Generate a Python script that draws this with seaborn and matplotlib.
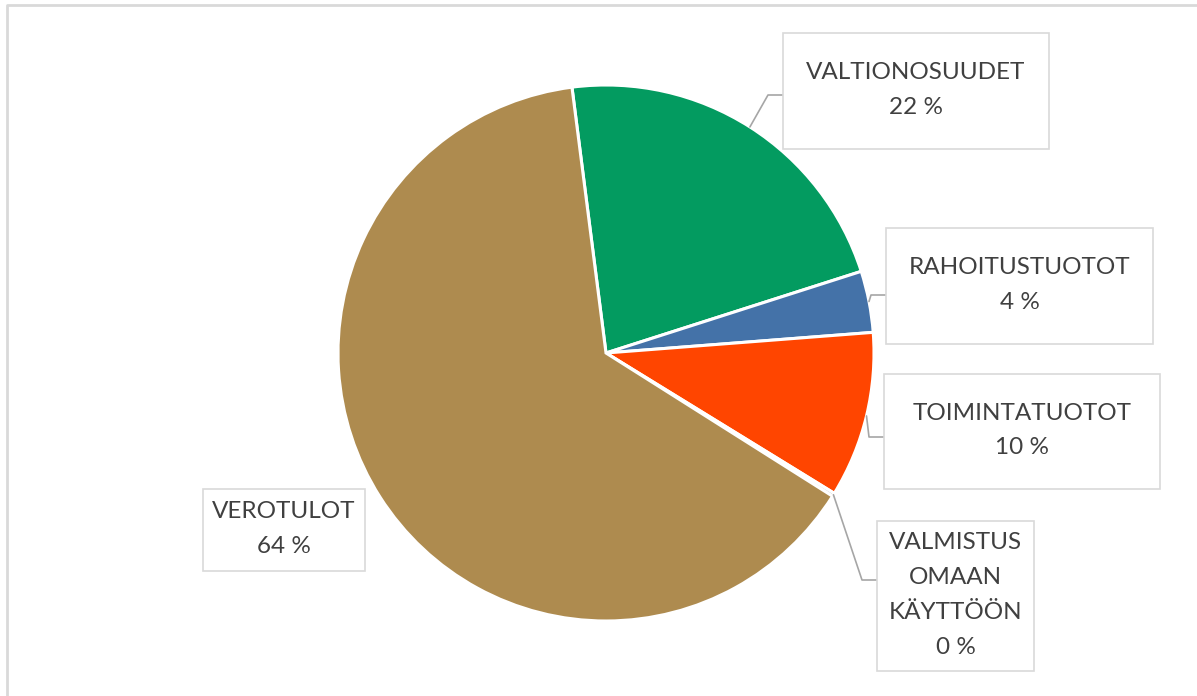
import numpy as np
import seaborn as sns
import matplotlib.pyplot as plt
from matplotlib.patches import Rectangle

sns.set_theme(style='white')
plt.rcParams['font.family'] = ['Lato', 'DejaVu Sans']

# data
categories = ['VALTIONOSUUDET', 'RAHOITUSTUOTOT', 'TOIMINTATUOTOT',
              'VALMISTUS\nOMAAN\nKÄYTTÖÖN', 'VEROTULOT']
shares = [22.1, 3.7, 10.0, 0.2, 64.0]
colors = ['#039B60', '#4472A8', '#FF4500', '#A5A5A5', '#AE8B4F']

W, H = 1197, 696
fig = plt.figure(figsize=(W / 100, H / 100), dpi=100)
ax = fig.add_axes([0, 0, 1, 1])

cx, cy, r = 606, H - 353, 268
wedges, _ = ax.pie(shares, colors=colors, startangle=97.3, counterclock=False,
                   center=(cx, cy), radius=r, frame=True,
                   wedgeprops=dict(edgecolor='white', linewidth=2.2))
ax.set_xlim(0, W)
ax.set_ylim(0, H)
ax.set_aspect('equal')
ax.axis('off')

# label boxes in pixel coords: left, top, right, bottom, leader elbow y (None = no leader)
boxes = [
    (783, 33, 1049, 149, 95),
    (886, 228, 1153, 344, 295),
    (884, 374, 1160, 489, 437),
    (877, 521, 1034, 671, 580),
    (203, 489, 365, 571, None),
]

line_col = '#A6A6A6'
for w, cat, val, (x0, y0, x1, y1, ey) in zip(wedges, categories, shares, boxes):
    ax.add_patch(Rectangle((x0, H - y1), x1 - x0, y1 - y0, facecolor='white',
                           edgecolor='#D9D9D9', linewidth=1.2, zorder=3))
    ax.text((x0 + x1) / 2, H - (y0 + y1) / 2 + 1, f'{cat}\n{round(val):.0f} %',
            ha='center', va='center', fontsize=17.5, color='#404040',
            linespacing=1.82, zorder=4)
    if ey is not None:
        mid = np.deg2rad((w.theta1 + w.theta2) / 2)
        px, py = cx + r * np.cos(mid), cy + r * np.sin(mid)
        ax.plot([px, x0 - 15, x0], [py, H - ey, H - ey], color=line_col,
                linewidth=1.2, zorder=2)

# outer frame (top and left edges visible)
ax.plot([7, 7, W], [0, H - 5, H - 5], color='#D9D9D9', linewidth=2, zorder=5)

fig.savefig('out.png', dpi=100, facecolor='white')
